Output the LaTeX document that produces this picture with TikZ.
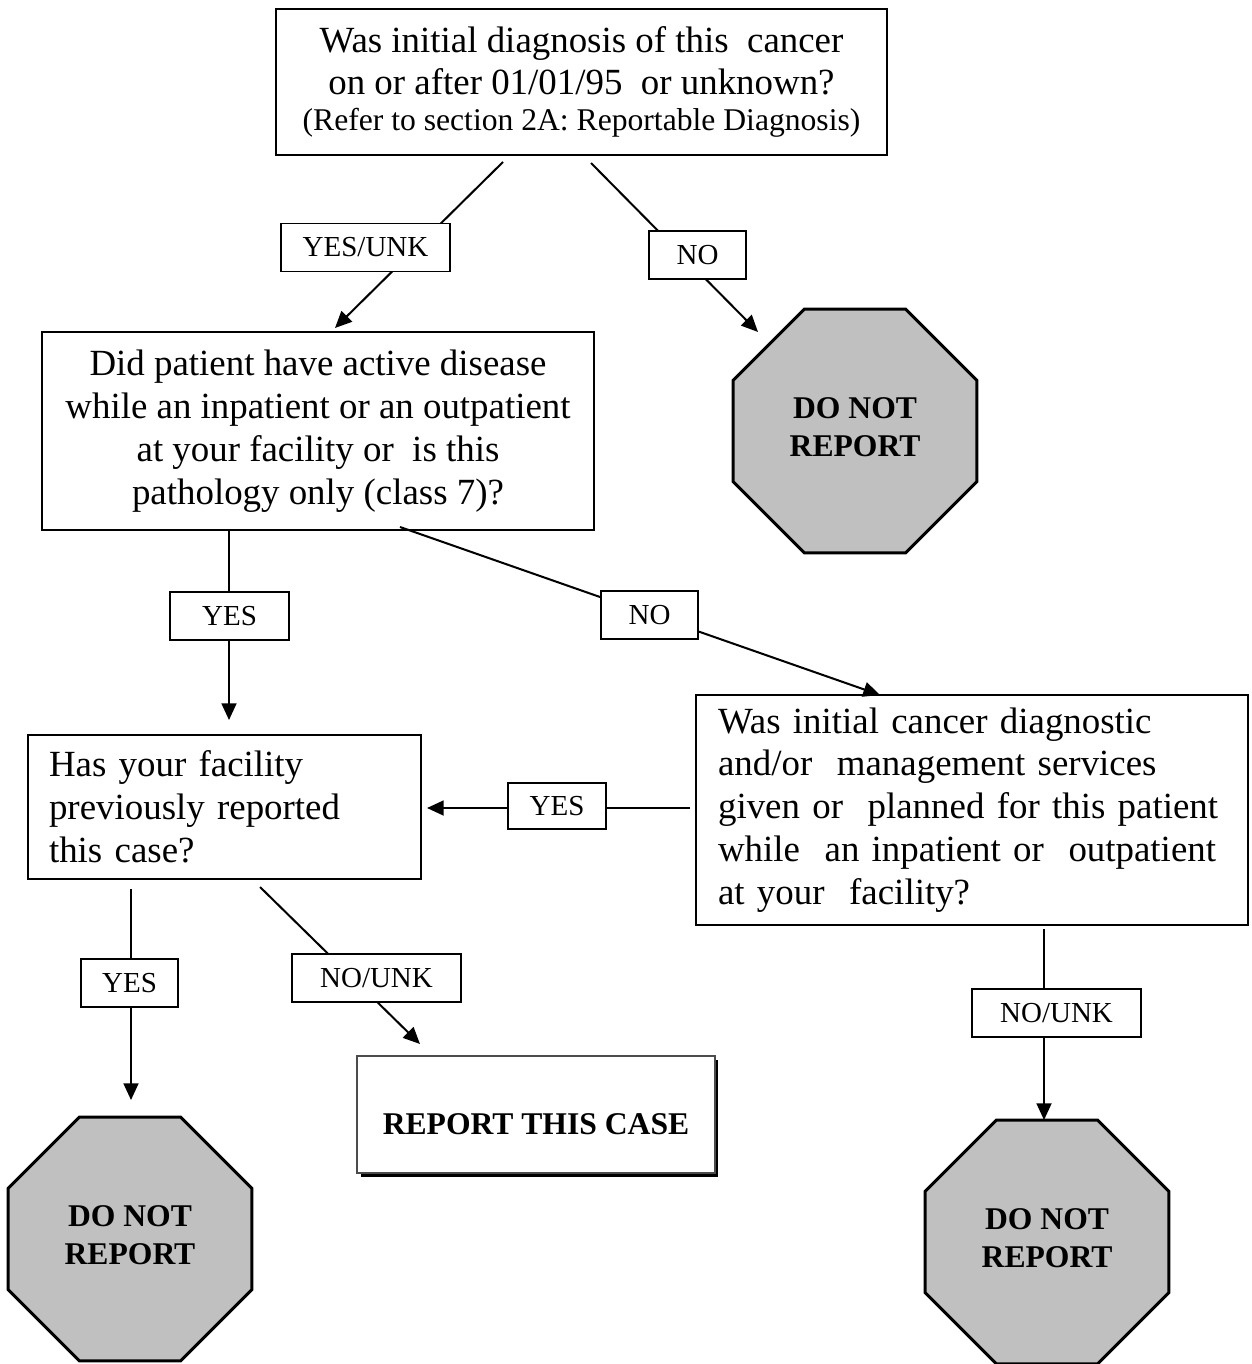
\documentclass[tikz,border=0pt]{standalone}
\usepackage{fontspec}
\setmainfont{Liberation Serif}
\usetikzlibrary{arrows.meta,shapes.geometric,shadows}
\definecolor{stopgray}{HTML}{C0C0C0}

\begin{document}
\begin{tikzpicture}[x=0.02cm, y=-0.02cm,
    qbox/.style={draw, line width=1.1pt, inner sep=0pt, font=\fontsize{21}{24.4}\selectfont},
    lbl/.style={draw, fill=white, line width=1pt, inner sep=0pt, minimum height=0.96cm, font=\fontsize{16.5}{19}\selectfont},
    stopsign/.style={regular polygon, regular polygon sides=8, minimum size=5.28cm, inner sep=0pt, draw, line width=1.7pt, fill=stopgray, align=center, font=\fontsize{18}{21.5}\selectfont\bfseries},
    conn/.style={line width=1.15pt},
    arr/.style={conn, -{Triangle[length=9.5pt,width=8.5pt]}}]
  \useasboundingbox (0,0) rectangle (1251,1364);

  \node[qbox, minimum width=12.22cm, minimum height=2.92cm, align=center] (diag) at (581.5,82) {Was initial diagnosis of this~ cancer\\[-0.6pt]on or after 01/01/95~ or unknown?\\[-4pt]{\fontsize{18}{20}\selectfont (Refer to section 2A: Reportable Diagnosis)}};
  \node[qbox, minimum width=11.04cm, minimum height=3.96cm, align=center] (active) at (318,431) {Did patient have active disease\\while an inpatient or an outpatient\\at your facility or~ is this\\pathology only (class 7)?};
  \node[stopsign] (stopA) at (855,431) {DO NOT\\REPORT\\[-17pt]};
  \node[qbox, minimum width=11.04cm, minimum height=4.6cm, text width=10.16cm, inner xsep=0.44cm, align=left] (services) at (972,810) {Was initial cancer diagnostic\\and/or~ management services\\given or~ planned for this patient\\while~ an inpatient or~ outpatient\\at your~ facility?};
  \node[qbox, minimum width=7.86cm, minimum height=2.88cm, text width=7.02cm, inner xsep=0.42cm, align=left] (reported) at (224.5,807) {Has your facility\\previously reported\\this case?};
  \node[draw=black!70, line width=0.8pt, fill=white, minimum width=7.16cm, minimum height=2.34cm, inner sep=0pt, text height=23.2pt, text depth=0pt, font=\fontsize{18}{21.5}\selectfont\bfseries, drop shadow={shadow xshift=0.07cm, shadow yshift=-0.07cm, fill=black, opacity=1}] (report) at (536,1114.5) {REPORT THIS CASE};
  \node[stopsign] (stopB) at (130,1239) {DO NOT\\REPORT\\[-17pt]};
  \node[stopsign] (stopC) at (1047,1242) {DO NOT\\REPORT\\[-17pt]};

  \coordinate (diagL) at (503,162);
  \coordinate (activeIn) at (335,328);
  \coordinate (diagR) at (591,163);
  \coordinate (stopAIn) at (758,332);
  \coordinate (activeL) at (229,530);
  \coordinate (reportedIn) at (229,720);
  \coordinate (activeR) at (400,527);
  \coordinate (servicesIn) at (880,695);
  \coordinate (servicesL) at (690,808);
  \coordinate (reportedR) at (427,808);
  \coordinate (reportedL) at (131,889);
  \coordinate (stopBIn) at (131,1100);
  \coordinate (reportedB) at (260,887);
  \coordinate (reportIn) at (420,1044);
  \coordinate (servicesB) at (1044,929);
  \coordinate (stopCIn) at (1044,1120);

  \draw[arr] (diagL) -- (activeIn);
  \draw[arr] (diagR) -- (stopAIn);
  \draw[arr] (activeL) -- (reportedIn);
  \draw[arr] (activeR) -- (servicesIn);
  \draw[arr] (servicesL) -- (reportedR);
  \draw[arr] (reportedL) -- (stopBIn);
  \draw[arr] (reportedB) -- (reportIn);
  \draw[arr] (servicesB) -- (stopCIn);

  \node[lbl, minimum width=3.38cm] (yesunk) at (365.5,247.5) {YES/UNK};
  \node[lbl, minimum width=1.94cm] (noA) at (697.5,255) {NO};
  \node[lbl, minimum width=2.38cm] (yesA) at (229.5,616) {YES};
  \node[lbl, minimum width=1.94cm] (noB) at (649.5,615) {NO};
  \node[lbl, minimum width=1.96cm, minimum height=0.92cm] (yesB) at (557,806) {YES};
  \node[lbl, minimum width=1.94cm] (yesC) at (129.5,983) {YES};
  \node[lbl, minimum width=3.38cm] (nounkA) at (376.5,978) {NO/UNK};
  \node[lbl, minimum width=3.38cm] (nounkB) at (1056.5,1013) {NO/UNK};
\end{tikzpicture}
\end{document}
